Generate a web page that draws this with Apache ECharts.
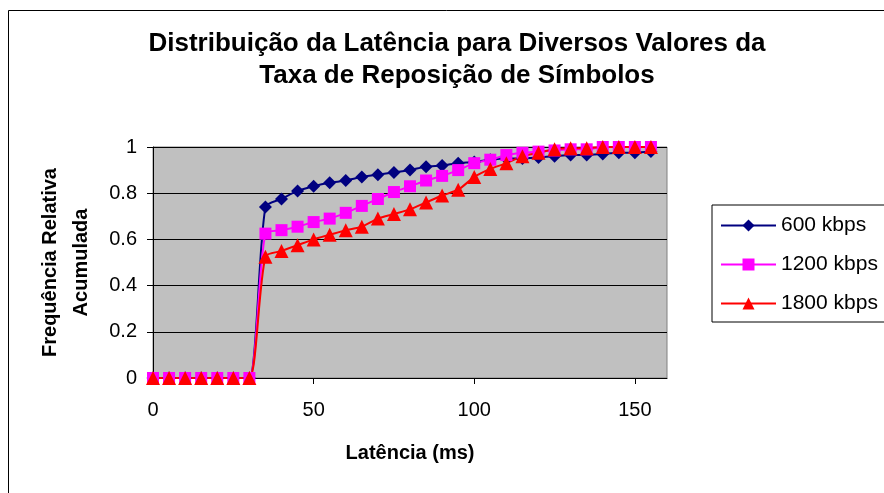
<!DOCTYPE html>
<html>
<head>
<meta charset="utf-8">
<script src="https://cdn.jsdelivr.net/npm/echarts@6/dist/echarts.min.js"></script>
<style>
  html, body { margin: 0; padding: 0; background: #fff; }
  #chart { width: 884px; height: 493px; }
</style>
</head>
<body>
<div id="chart"></div>
<script>
// Latency (ms) sampled every 5 ms
const latencias = [0, 5, 10, 15, 20, 25, 30, 35, 40, 45, 50, 55, 60, 65, 70, 75,
  80, 85, 90, 95, 100, 105, 110, 115, 120, 125, 130, 135, 140, 145, 150, 155];

// Cumulative relative frequency for each symbol replenishment rate
const freq600 = [0, 0, 0, 0, 0, 0, 0, 0.74, 0.775, 0.81, 0.83, 0.845, 0.855, 0.87, 0.88, 0.89,
  0.90, 0.915, 0.92, 0.93, 0.935, 0.945, 0.95, 0.95, 0.955, 0.96, 0.965, 0.965, 0.97, 0.975, 0.975, 0.98];
const freq1200 = [0, 0, 0, 0, 0, 0, 0, 0.625, 0.64, 0.655, 0.675, 0.69, 0.715, 0.745, 0.775, 0.805,
  0.83, 0.855, 0.875, 0.90, 0.93, 0.945, 0.965, 0.975, 0.98, 0.985, 0.99, 0.99, 1, 1, 1, 1];
const freq1800 = [0, 0, 0, 0, 0, 0, 0, 0.525, 0.55, 0.575, 0.60, 0.62, 0.64, 0.655, 0.69, 0.71,
  0.73, 0.76, 0.79, 0.815, 0.87, 0.905, 0.93, 0.96, 0.975, 0.99, 0.995, 0.995, 1, 1, 1, 1];

const nomesSeries = ['600 kbps', '1200 kbps', '1800 kbps'];
const xTicks = [0, 50, 100, 150];

const FONT = '"Liberation Sans", Arial, sans-serif';

function pares(ys) {
  return latencias.map((x, i) => [x, ys[i]]);
}

const chart = echarts.init(document.getElementById('chart'), null, { renderer: 'canvas' });

function serie(nome, ys, cor, simbolo, tamanho) {
  return {
    name: nome,
    type: 'line',
    data: pares(ys),
    smooth: 0.25,
    symbol: simbolo,
    symbolSize: tamanho,
    showAllSymbol: true,
    lineStyle: { color: cor, width: 2 },
    itemStyle: { color: cor, borderWidth: 0 },
    emphasis: { disabled: true },
    animation: false
  };
}

chart.setOption({
  animation: false,
  backgroundColor: '#ffffff',
  textStyle: { fontFamily: FONT, color: '#000' },
  graphic: [{
    type: 'rect',
    shape: { x: 8.5, y: 10.5, width: 900, height: 500 },
    style: { fill: 'none', stroke: '#000', lineWidth: 1 },
    silent: true, z: -10
  }],
  title: {
    text: 'Distribuição da Latência para Diversos Valores da\nTaxa de Reposição de Símbolos',
    left: 452,
    top: 23,
    textAlign: 'center',
    textStyle: {
      fontFamily: FONT, fontSize: 26, fontWeight: 'bold', color: '#000', lineHeight: 32
    }
  },
  legend: {
    orient: 'vertical',
    left: 712,
    top: 205,
    padding: [10, 7, 8, 8],
    itemWidth: 55,
    itemHeight: 15,
    itemGap: 18,
    backgroundColor: '#fff',
    borderColor: '#000',
    borderWidth: 1,
    borderRadius: 0,
    data: nomesSeries,
    textStyle: { fontFamily: FONT, fontSize: 21, color: '#000' },
    selectedMode: false
  },
  grid: {
    left: 153, top: 147, width: 514, height: 231,
    show: true, backgroundColor: '#C0C0C0', borderColor: '#808080', borderWidth: 1,
    containLabel: false
  },
  xAxis: {
    type: 'value',
    min: 0, max: 160, interval: 50,
    name: 'Latência (ms)',
    nameLocation: 'middle',
    nameGap: 65,
    nameTextStyle: { fontFamily: FONT, fontSize: 20, fontWeight: 'bold', color: '#000' },
    axisLine: { show: true, lineStyle: { color: '#000', width: 1 } },
    axisTick: { show: true, inside: false, length: 6, lineStyle: { color: '#000' }, customValues: xTicks },
    axisLabel: { fontFamily: FONT, fontSize: 20, color: '#000', margin: 22, customValues: xTicks },
    splitLine: { show: false }
  },
  yAxis: {
    type: 'value',
    min: 0, max: 1, interval: 0.2,
    name: 'Frequência Relativa\nAcumulada',
    nameLocation: 'middle',
    nameRotate: 90,
    nameGap: 56,
    nameTextStyle: { fontFamily: FONT, fontSize: 20, fontWeight: 'bold', color: '#000', lineHeight: 31, align: 'center' },
    axisLine: { show: true, lineStyle: { color: '#000', width: 1 } },
    axisTick: { show: true, inside: false, length: 6, lineStyle: { color: '#000' } },
    axisLabel: { fontFamily: FONT, fontSize: 20, color: '#000', margin: 16 },
    splitLine: { show: true, lineStyle: { color: '#000', width: 1 } }
  },
  series: [
    serie(nomesSeries[0], freq600, '#000080', 'diamond', 13),
    serie(nomesSeries[1], freq1200, '#FF00FF', 'rect', 12),
    serie(nomesSeries[2], freq1800, '#FF0000', 'triangle', 14)
  ]
});
</script>
</body>
</html>
